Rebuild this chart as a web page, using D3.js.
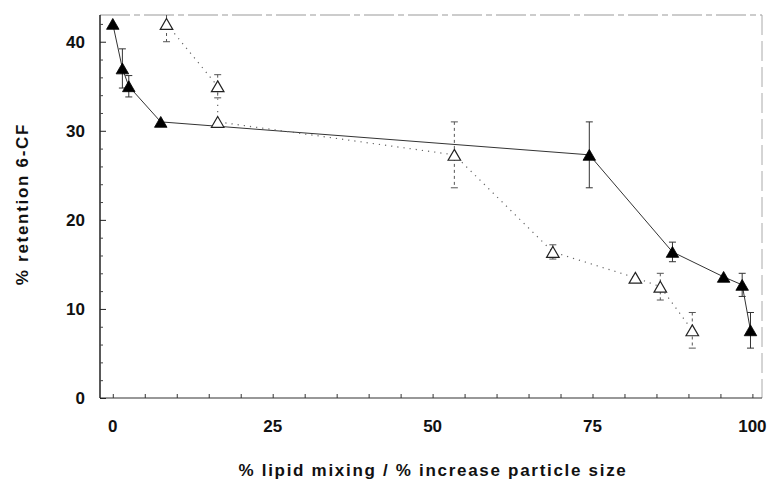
<!DOCTYPE html>
<html>
<head>
<meta charset="utf-8">
<script src="https://cdn.jsdelivr.net/npm/d3@7"></script>
<style>
  html, body { margin: 0; padding: 0; background: #fff; }
  svg { display: block; }
  text { font-family: "Liberation Sans", Arial, sans-serif; font-weight: bold; fill: #111; }
</style>
</head>
<body>
<svg id="chart" width="770" height="486"></svg>
<script>
// ---- data ----
const filledX   = [0, 1.5, 2.5, 7.5, 74.5, 87.5, 95.5, 98.4, 99.7];
const filledY   = [42, 37, 35, 31, 27.3, 16.4, 13.6, 12.7, 7.6];
const filledErr = [0, 2.2, 1.2, 0, 3.7, 1.1, 0, 1.3, 2.0];

const openX   = [8.4, 16.4, 16.4, 53.4, 68.8, 81.7, 85.6, 90.6];
const openY   = [42, 35, 31, 27.3, 16.4, 13.5, 12.5, 7.6];
const openErr = [2.0, 1.3, 0, 3.7, 0.8, 0, 1.5, 2.0];

const xTickLabels = [0, 25, 50, 75, 100];
const yTickLabels = [0, 10, 20, 30, 40];
const xLabel = "% lipid mixing / % increase particle size";
const yLabel = "% retention 6-CF";

// ---- layout ----
const svg = d3.select("#chart");
const pL = 100, pR = 762, pT = 15, pB = 398;

const x = d3.scaleLinear().domain([-2, 101.5]).range([pL, pR]);
const y = d3.scaleLinear().domain([0, 43]).range([pB, pT]);

// frame
svg.append("line").attr("x1", pL).attr("x2", pR).attr("y1", pT).attr("y2", pT)
  .attr("stroke", "#999").attr("stroke-width", 1).attr("stroke-dasharray", "30,4,6,4");
svg.append("line").attr("x1", pR).attr("x2", pR).attr("y1", pT).attr("y2", pB)
  .attr("stroke", "#aaa").attr("stroke-width", 1).attr("stroke-dasharray", "20,6");

// x axis
const xAxis = d3.axisBottom(x).tickValues(d3.range(0, 101, 5)).tickSizeInner(-4).tickSizeOuter(0).tickFormat("");
const gx = svg.append("g").attr("transform", `translate(0,${pB})`).call(xAxis);
gx.select(".domain").attr("d", `M${pL},0H${pR}`).attr("stroke", "#333").attr("stroke-width", 1.2);
gx.selectAll(".tick line").attr("stroke", "#333");

svg.append("g").selectAll("text").data(xTickLabels).join("text")
  .attr("x", d => x(d)).attr("y", 432).attr("text-anchor", "middle")
  .style("font-size", "17px").text(d => d);

// y axis
const yMinor = d3.range(0, 43, 2).filter(v => v % 10 !== 0);
const yAxis = d3.axisLeft(y).tickValues(yMinor).tickSizeInner(-3).tickSizeOuter(0).tickFormat("");
const gy = svg.append("g").attr("transform", `translate(${pL},0)`).call(yAxis);
gy.select(".domain").attr("d", `M0,${pT}V${pB}`).attr("stroke", "#222").attr("stroke-width", 1.5);
gy.selectAll(".tick line").attr("stroke", "#444");
const yAxisMajor = d3.axisLeft(y).tickValues(yTickLabels).tickSizeInner(-6).tickSizeOuter(0).tickFormat("");
const gy2 = svg.append("g").attr("transform", `translate(${pL},0)`).call(yAxisMajor);
gy2.select(".domain").remove();
gy2.selectAll(".tick line").attr("stroke", "#222");

svg.append("g").selectAll("text").data(yTickLabels).join("text")
  .attr("x", 85).attr("y", d => y(d) + 6).attr("text-anchor", "end")
  .style("font-size", "17px").text(d => d);

// axis titles
svg.append("text").attr("x", 433).attr("y", 476).attr("text-anchor", "middle")
  .style("font-size", "17px").style("letter-spacing", "1.7px").text(xLabel);
svg.append("text").attr("transform", "translate(28,204) rotate(-90)").attr("text-anchor", "middle")
  .style("font-size", "17px").style("letter-spacing", "1.7px").text(yLabel);

// series
const filled = filledX.map((v, i) => ({x: v, y: filledY[i], e: filledErr[i]}));
const open = openX.map((v, i) => ({x: v, y: openY[i], e: openErr[i]}));

const line = d3.line().x(d => x(d.x)).y(d => y(d.y));

svg.append("path").datum(filled).attr("d", line)
  .attr("fill", "none").attr("stroke", "#333").attr("stroke-width", 1);
svg.append("path").datum(open).attr("d", line)
  .attr("fill", "none").attr("stroke", "#666").attr("stroke-width", 1.2).attr("stroke-dasharray", "1.2,5");

function errorBars(data, dashed) {
  const g = svg.append("g").attr("stroke", dashed ? "#555" : "#333").attr("stroke-width", 1);
  const d = data.filter(p => p.e > 0);
  g.selectAll("line.v").data(d).join("line").attr("class", "v")
    .attr("x1", p => x(p.x)).attr("x2", p => x(p.x))
    .attr("y1", p => Math.max(pT, y(p.y + p.e))).attr("y2", p => y(p.y - p.e))
    .attr("stroke-dasharray", dashed ? "3,3" : null);
  g.selectAll("line.t").data(d.filter(p => y(p.y + p.e) > pT)).join("line").attr("class", "t")
    .attr("x1", p => x(p.x) - 3.5).attr("x2", p => x(p.x) + 3.5)
    .attr("y1", p => y(p.y + p.e)).attr("y2", p => y(p.y + p.e));
  g.selectAll("line.b").data(d).join("line").attr("class", "b")
    .attr("x1", p => x(p.x) - 3.5).attr("x2", p => x(p.x) + 3.5)
    .attr("y1", p => y(p.y - p.e)).attr("y2", p => y(p.y - p.e));
}
errorBars(filled, false);
errorBars(open, true);

const tri = d3.symbol().type(d3.symbolTriangle).size(68);
const triOff = Math.sqrt(68 / (Math.sqrt(3) * 3)) / 2;

svg.append("g").selectAll("path").data(open).join("path")
  .attr("d", tri).attr("transform", p => `translate(${x(p.x)},${y(p.y) + triOff})`)
  .attr("fill", "#fff").attr("stroke", "#222").attr("stroke-width", 1.2);
svg.append("g").selectAll("path").data(filled).join("path")
  .attr("d", tri).attr("transform", p => `translate(${x(p.x)},${y(p.y) + triOff})`)
  .attr("fill", "#000").attr("stroke", "#000").attr("stroke-width", 0.8);
</script>
</body>
</html>
